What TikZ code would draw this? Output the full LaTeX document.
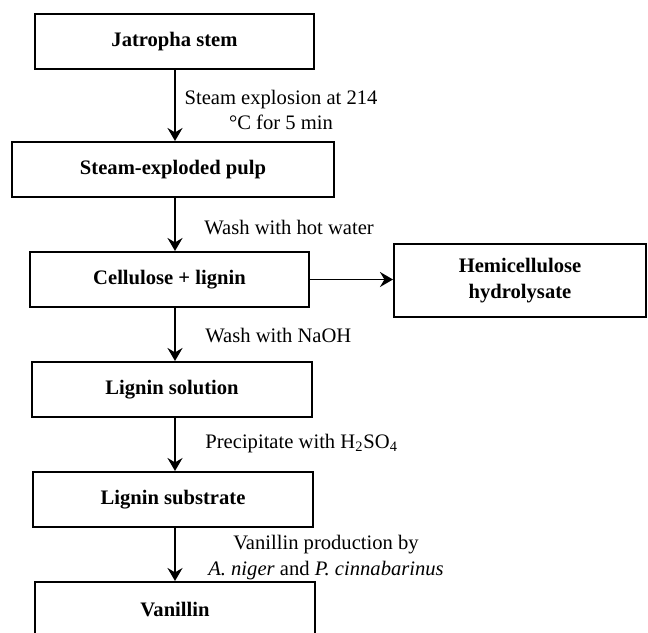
\documentclass[tikz,border=0pt]{standalone}
\usepackage{fontspec}
\setmainfont{Liberation Serif}
\usetikzlibrary{arrows.meta}
\begin{document}
\begin{tikzpicture}[x=0.5pt,y=-0.5pt,
  box/.style={draw,line width=1pt,rectangle,inner sep=0pt,minimum height=27.5pt,
    font=\fontsize{10.3}{12.6}\selectfont\bfseries,align=center},
  lbl/.style={inner sep=0pt,font=\fontsize{10.3}{12.8}\selectfont,align=center},
  arr/.style={line width=0.9pt,-{Stealth[length=6.5pt,width=7.5pt,inset=2.2pt]}}]
\useasboundingbox (0,0) rectangle (648,632);
\coordinate (ax) at (175,0);
\node[box,minimum width=139.5pt] (jat) at (174.5,41.5) {Jatropha stem};
\node[box,minimum width=161pt] (steam) at (173,169.5) {Steam-exploded pulp};
\node[box,minimum width=139.5pt] (cell) at (169.5,279.5) {Cellulose + lignin};
\node[box,minimum width=140pt] (lsol) at (172,389.5) {Lignin solution};
\node[box,minimum width=140pt] (lsub) at (173,499.5) {Lignin substrate};
\node[box,minimum width=140pt] (van) at (175,609.5) {Vanillin};
\node[box,minimum width=126pt,minimum height=36.5pt] (hemi) at (520,280.5) {Hemicellulose\\hydrolysate};
\draw[arr] (jat.south -| ax) -- (steam.north -| ax);
\draw[arr] (steam.south -| ax) -- (cell.north -| ax);
\draw[arr] (cell.south -| ax) -- (lsol.north -| ax);
\draw[arr] (lsol.south -| ax) -- (lsub.north -| ax);
\draw[arr] (lsub.south -| ax) -- (van.north -| ax);
\draw[arr] (cell.east) -- (cell.east -| hemi.west);
\node[lbl] (l1) at (281,110) {Steam explosion at 214\\°C for 5 min};
\node[lbl,anchor=west] (l2) at (204,228) {Wash with hot water};
\node[lbl,anchor=west] (l3) at (205,336) {Wash with NaOH};
\node[lbl,anchor=west] (l4) at (205,444) {Precipitate with H\textsubscript{2}SO\textsubscript{4}};
\node[lbl] (l5) at (326,557.5) {Vanillin production by\\\textit{A. niger} and \textit{P. cinnabarinus}};
\end{tikzpicture}
\end{document}
